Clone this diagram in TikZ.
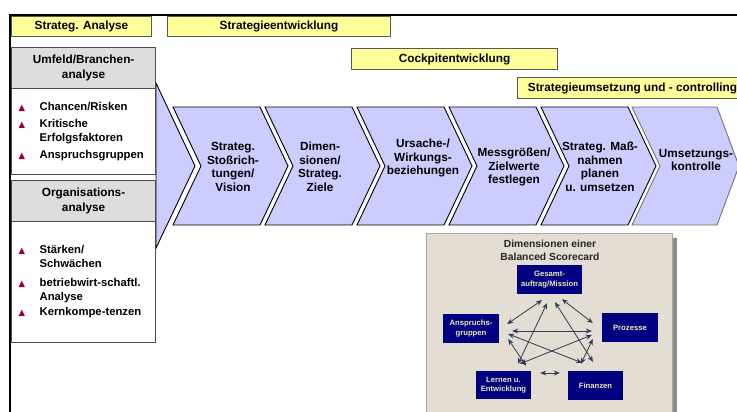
\documentclass[tikz,border=0pt]{standalone}
\usepackage{fontspec}
\setmainfont{Liberation Sans}
\newfontfamily\symfont{DejaVu Sans}
\usepackage{tikz}
\usepackage{xcolor}
\usetikzlibrary{arrows.meta}
\definecolor{phase-yellow}{HTML}{FFFF99}
\definecolor{step-blue}{HTML}{CCCCFF}
\definecolor{head-gray}{HTML}{DDDDDD}
\definecolor{bullet-red}{HTML}{990033}
\definecolor{bsc-navy}{HTML}{000080}
\definecolor{bsc-text}{HTML}{EEEAB4}
\definecolor{bsc-paper}{HTML}{E4DDD3}
\definecolor{bsc-line}{HTML}{2E3A56}
\newcommand{\tri}{\makebox[21pt][l]{\color{bullet-red}\symfont\fontsize{8.5}{8.5}\selectfont ▲}}
\tikzset{
    phase-box/.style = {draw=black!65, fill=phase-yellow, line width=1pt, anchor=north west, inner sep=0pt, minimum height=20pt, font=\fontsize{11.8}{13}\selectfont\bfseries},
    head-box/.style = {draw=black!70, fill=head-gray, line width=1.2pt, anchor=north west, inner sep=0pt, minimum width=144pt, minimum height=41pt, align=center, font=\fontsize{11.8}{14.5}\selectfont\bfseries},
    list-box/.style = {draw=black!70, fill=white, line width=1.2pt, anchor=north west, inner xsep=7pt, inner ysep=0pt, text width=130pt, font=\fontsize{11.3}{14}\selectfont\bfseries},
    step-arrow/.style = {draw=black, fill=step-blue, line width=0.9pt, line join=miter},
    step-text/.style = {inner sep=0pt, align=center, font=\fontsize{11.8}{13.5}\selectfont\bfseries},
    bsc-title/.style = {inner sep=0pt, align=center, text=black!85, font=\fontsize{10.3}{13}\selectfont\bfseries},
    bsc-box/.style = {fill=bsc-navy, text=bsc-text, inner sep=0pt, minimum width=56pt, minimum height=29pt, align=center, font=\fontsize{7.7}{9.5}\selectfont\bfseries},
    bsc-link/.style = {draw=bsc-line, line width=0.8pt, arrows={Stealth[length=6pt,width=5pt]-Stealth[length=6pt,width=5pt]}},
}

\begin{document}
\begin{tikzpicture}[x=1pt, y=-1pt]
\useasboundingbox (0,0) rectangle (737,412);
\clip (0,0) rectangle (737,412);
\fill[white] (0,0) rectangle (737,412);

\node[phase-box, minimum width=140pt] (analyse) at (11,16) {Strateg. Analyse};
\node[phase-box, minimum width=223pt] (entwicklung) at (167,16) {Strategieentwicklung};
\node[phase-box, minimum width=206pt, minimum height=21pt] (cockpit) at (351,48) {Cockpitentwicklung};
\node[phase-box, minimum width=230pt, minimum height=21pt] (umsetzung) at (517,77) {Strategieumsetzung und - controlling};

\draw[step-arrow] (156,83) -- (195,166) -- (156,248) -- cycle;

\node[head-box] (umfeld) at (11,47) {Umfeld/Branchen-\\analyse};
\node[list-box, minimum height=86pt] (umfeld-list) at (11,88) {%
\begin{tabular}{@{}l@{}l@{}}
\tri & Chancen/Risken\\[3pt]
\tri & Kritische\\
     & Erfolgsfaktoren\\[3pt]
\tri & Anspruchsgruppen
\end{tabular}};
\node[head-box] (orga) at (11,180) {Organisations-\\analyse};
\node[list-box, minimum height=121pt] (orga-list) at (11,221) {%
\begin{tabular}{@{}l@{}l@{}}
\tri & Stärken/\\
     & Schwächen\\[5pt]
\tri & betriebwirt-schaftl.\\
     & Analyse\\[1pt]
\tri & Kernkompe-tenzen
\end{tabular}};

\foreach \x/\y/\dx/\txt [count=\i] in {173/167/60/{Strateg.\\Stoßrich-\\tungen/\\Vision},
    265/167/55/{Dimen-\\sionen/\\Strateg.\\Ziele},
    357/158/66/{Ursache-/\\Wirkungs-\\beziehungen},
    449/167/65/{Messgrößen/\\Zielwerte\\festlegen},
    541/167/59/{Strateg. Maß-\\nahmen\\planen\\u. umsetzen}}{
  \draw[step-arrow] (\x,107) -- ++(87,0) -- ++(28,59) -- ++(-28,59) -- ++(-87,0) -- ++(28,-59) -- cycle;
  \node[step-text] (step\i) at (\x+\dx,\y) {\txt};
}
\draw[step-arrow, draw=black!55] (632,107) -- ++(85,0) -- ++(22,59) -- ++(-22,59) -- ++(-85,0) -- ++(28,-59) -- cycle;
\node[step-text] (step6) at (696,160) {Umsetzungs-\\kontrolle};

\fill[black!45] (431,238) rectangle (677,412);
\draw[draw=black!35, fill=bsc-paper] (426,233) rectangle (672,413);
\node[bsc-title] (bsc) at (550,250) {Dimensionen einer\\Balanced Scorecard};
\node[bsc-box, minimum width=65pt] (ges) at (549.5,279.5) {Gesamt-\\auftrag/Mission};
\node[bsc-box] (ans) at (471,328.5) {Anspruchs-\\gruppen};
\node[bsc-box] (pro) at (630,327.5) {Prozesse};
\node[bsc-box, minimum width=55pt, minimum height=28pt] (ler) at (503.5,385) {Lernen u.\\Entwicklung};
\node[bsc-box, minimum width=55pt] (fin) at (595.5,385.5) {Finanzen};

\draw[bsc-link] ([shift={(-7.5,6)}]ges.south) -- ([shift={(8,-4.5)}]ans.east);
\draw[bsc-link] ([shift={(-2.5,9)}]ges.south) -- ([shift={(14.5,-7)}]ler.north);
\draw[bsc-link] ([shift={(5.5,8)}]ges.south) -- ([shift={(-2.5,-9)}]fin.north);
\draw[bsc-link] ([shift={(12.5,5)}]ges.south) -- ([shift={(-9,-4.5)}]pro.west);
\draw[bsc-link] ([shift={(13,2.5)}]ans.east) -- ([shift={(-10,3.5)}]pro.west);
\draw[bsc-link] ([shift={(9,5.5)}]ans.east) -- ([shift={(-13.5,-8)}]fin.north);
\draw[bsc-link] ([shift={(9,10.5)}]ans.east) -- ([shift={(22.5,-5)}]ler.north);
\draw[bsc-link] ([shift={(16.5,-7)}]ler.north) -- ([shift={(-10,7.5)}]pro.west);
\draw[bsc-link] ([shift={(-9,11.5)}]pro.west) -- ([shift={(-14.5,-7)}]fin.north);
\draw[bsc-link] ([shift={(9,-12)}]ler.east) -- ([shift={(-8,-12.5)}]fin.west);

\draw[line width=2.4pt] (10,412) -- (10,15) -- (737,15);
\end{tikzpicture}
\end{document}
